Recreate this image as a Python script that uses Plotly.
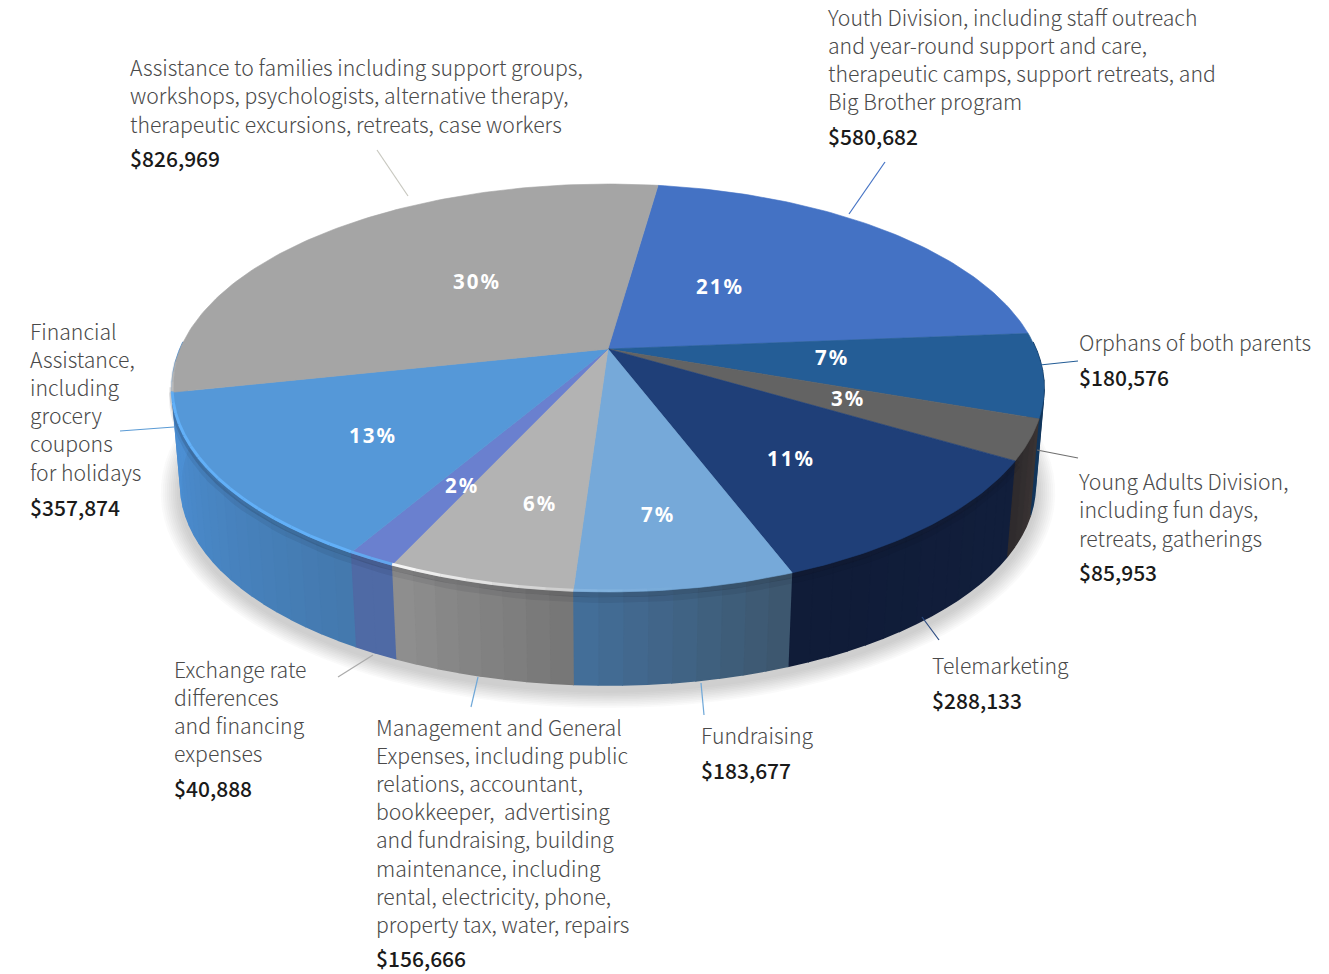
import numpy as np
import plotly.graph_objects as go

# ---- data (clockwise from the Youth Division wedge) ----
categories = ["Youth Division", "Orphans of both parents", "Young Adults Division", "Telemarketing",
              "Fundraising", "Management and General Expenses", "Exchange rate differences",
              "Financial Assistance", "Assistance to families"]
amounts = [580682, 180576, 85953, 288133, 183677, 156666, 40888, 357874, 826969]
percent_labels = ["21%", "7%", "3%", "11%", "7%", "6%", "2%", "13%", "30%"]
amount_labels = ["$580,682", "$180,576", "$85,953", "$288,133", "$183,677", "$156,666", "$40,888", "$357,874", "$826,969"]
label_lines = [
    ["Youth Division, including staff outreach", "and year-round support and care,",
     "therapeutic camps, support retreats, and", "Big Brother program"],
    ["Orphans of both parents"],
    ["Young Adults Division,", "including fun days,", "retreats, gatherings"],
    ["Telemarketing"],
    ["Fundraising"],
    ["Management and General", "Expenses, including public", "relations, accountant,",
     "bookkeeper,  advertising", "and fundraising, building", "maintenance, including",
     "rental, electricity, phone,", "property tax, water, repairs"],
    ["Exchange rate", "differences", "and financing", "expenses"],
    ["Financial", "Assistance,", "including", "grocery", "coupons", "for holidays"],
    ["Assistance to families including support groups,", "workshops, psychologists, alternative therapy,",
     "therapeutic excursions, retreats, case workers"],
]

# ---- styles and layout ----
top_colors = ["#4472c4", "#245d96", "#636363", "#1f3f78", "#76a9d9", "#b3b3b3", "#6a80cf", "#5598d8", "#a5a5a5"]
side_colors = [("#3a62a8", "#3a62a8"), ("#173f68", "#12355a"), ("#3b3534", "#2e2a2c"), ("#121f3c", "#101c38"),
               ("#3d566d", "#44709b"), ("#767676", "#909090"), ("#4f6aa5", "#4f6aa5"), ("#4479ae", "#4c8fd3"),
               ("#4c8fd3", "#4c8fd3")]
glow_colors = [None, None, None, None, "#a8d0f2", "#ffffff", "#62a8f0", "#62b0f8", "#c8c8c8"]
label_pos = [(828, 16, 28.3, 136), (1079, 341, 0, 377), (1079, 480, 28.5, 572), (932, 664, 0, 700), (701, 734, 0, 770),
             (376, 726, 28.2, 958), (174, 668, 28.3, 788), (30, 330, 28.2, 507), (130, 66, 28.5, 158)]
percent_pos = [(719, 286), (831, 357), (847, 398), (790, 458), (657, 514), (539, 503), (461, 485), (372, 435), (476, 281)]
leaders = [(885, 162, 849, 214, "#4472c4"), (1078, 361, 1040, 365, "#245d96"), (1078, 458, 1037, 450, "#707070"),
           (939, 640, 922, 617, "#2a4a80"), (704, 715, 701, 683, "#70a8d8"), (471, 707, 478, 677, "#70a8d8"),
           (338, 677, 373, 655, "#aaaaaa"), (120, 431, 174, 427, "#5b9bd5"), (377, 150, 408, 196, "#c8c8c0")]
CX, CY, A, B, K = 608, 349, 428, 196.5, 0.191
DEPTH, Q = 98, 0.98
START = 8.0
FONT = "Noto Sans CJK JP"
TEXT_SIZE = 21.2
MONEY_SIZE = 21


def project(theta_deg, drop=0.0, q=1.0):
    t = np.radians(theta_deg)
    X, Y = np.sin(t), np.cos(t)
    s = 1 / (1 + K * Y)
    return CX + A * q * X * s, CY + drop - B * q * Y * s


def hex_rgb(c):
    return np.array([int(c[i:i + 2], 16) for i in (1, 3, 5)], float)


def mix(a, b, t):
    v = hex_rgb(a) * (1 - t) + hex_rgb(b) * t
    return "rgb(%d,%d,%d)" % tuple(v)


def poly(xs, ys, color, line=0.6):
    return go.Scatter(x=list(xs), y=list(ys), mode="lines", fill="toself", fillcolor=color,
                      line=dict(color=color, width=line), hoverinfo="skip", showlegend=False)


fig = go.Figure()
total = sum(amounts)
edges = START + np.concatenate([[0], np.cumsum(amounts)]) / total * 360
ring = np.arange(0, 361, 3.0)

# soft drop shadow under the pie
for grow in np.arange(20, 0, -2.0):
    x, y = project(ring, DEPTH + 6, Q)
    cx, cy = CX, np.mean(y)
    fx = 1 + grow / A
    fy = 1 + grow / 260
    fig.add_trace(go.Scatter(x=cx + (x - cx) * fx, y=cy + (y - cy) * fy, mode="lines", fill="toself",
                             fillcolor="rgba(70,70,70,0.028)", line=dict(width=0),
                             hoverinfo="skip", showlegend=False))

# side wall strips
for i, (a, b) in enumerate(zip(edges[:-1], edges[1:])):
    lo, hi = max(a, 88), min(b, 272)
    if hi <= lo:
        continue
    steps = max(2, int((hi - lo) / 2.5))
    th = np.linspace(lo, hi, steps + 1)
    for j in range(steps):
        t = (j + 0.5) / steps
        t1, t2 = th[j], th[j + 1]
        x1, y1 = project(np.array([t1, t2]))
        x2, y2 = project(np.array([t2, t1]), DEPTH, Q)
        fig.add_trace(poly(np.r_[x1, x2], np.r_[y1, y2], mix(side_colors[i][0], side_colors[i][1], t), line=1.6))

# shade under the rim
th = np.arange(120, 262, 2.0)
for off, al, w in ((3, 0.15, 5), (8, 0.07, 6)):
    x, y = project(th, off)
    fig.add_trace(go.Scatter(x=x, y=y, mode="lines", line=dict(color="rgba(20,20,30,%.2f)" % al, width=w),
                             hoverinfo="skip", showlegend=False))

# top wedges
for i, (a, b) in enumerate(zip(edges[:-1], edges[1:])):
    th = np.linspace(a, b, max(3, int(b - a) + 2))
    x, y = project(th)
    fig.add_trace(poly(np.r_[CX, x, CX], np.r_[CY, y, CY], top_colors[i]))

# highlight along the near rim
for i, (a, b) in enumerate(zip(edges[:-1], edges[1:])):
    if glow_colors[i] is None:
        continue
    lo, hi = max(a, 165), min(b, 266)
    if hi <= lo:
        continue
    th = np.linspace(lo, hi, int((hi - lo) / 3) + 2)
    for t1, t2 in zip(th[:-1], th[1:]):
        m = (t1 + t2) / 2
        al = float(np.clip((m - 172) / 36, 0, 1)) * float(np.clip((268 - m) / 14, 0, 1))
        if al <= 0:
            continue
        x, y = project(np.array([t1, t2]), -1)
        c = hex_rgb(glow_colors[i])
        fig.add_trace(go.Scatter(x=x, y=y, mode="lines", hoverinfo="skip", showlegend=False,
                                 line=dict(color="rgba(%d,%d,%d,%.2f)" % (*c, al), width=3)))

shapes = [dict(type="line", xref="x", yref="y", x0=x0, y0=y0, x1=x1, y1=y1, line=dict(color=c, width=1.2))
          for x0, y0, x1, y1, c in leaders]

annotations = []
for lines, money, (x, y, dy, my) in zip(label_lines, amount_labels, label_pos):
    for k, line in enumerate(lines):
        annotations.append(dict(x=x, y=y + k * dy, text=line, showarrow=False, xanchor="left", yanchor="middle",
                                xshift=-2, font=dict(family=FONT, size=TEXT_SIZE, color="#4a4a4a", weight=300)))
    annotations.append(dict(x=x, y=my, text=money, showarrow=False, xanchor="left", yanchor="middle", xshift=-2,
                            font=dict(family=FONT, size=MONEY_SIZE, color="#1a1a1a", weight=500)))
for lab, (x, y) in zip(percent_labels, percent_pos):
    annotations.append(dict(x=x, y=y, text="\u200a".join(lab), showarrow=False, xanchor="center", yanchor="middle",
                            font=dict(family="Noto Sans", size=20.5, color="#ffffff", weight=700)))

fig.update_layout(width=1329, height=974, margin=dict(l=0, r=0, t=0, b=0), paper_bgcolor="white",
                  plot_bgcolor="white", showlegend=False, shapes=shapes, annotations=annotations,
                  xaxis=dict(range=[0, 1329], visible=False, fixedrange=True),
                  yaxis=dict(range=[974, 0], visible=False, fixedrange=True))
fig.write_html("out.html", post_script="document.body.style.margin='0';", config=dict(displayModeBar=False))
